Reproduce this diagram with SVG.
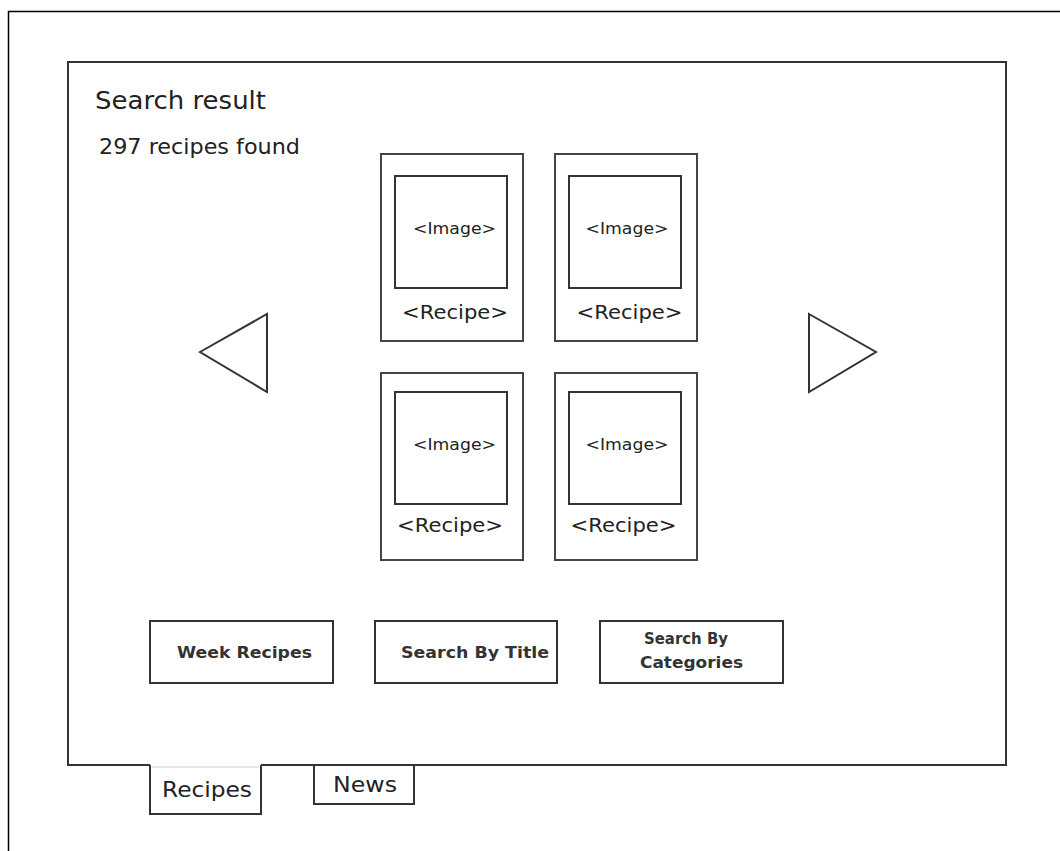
<svg xmlns="http://www.w3.org/2000/svg" width="1060" height="851" viewBox="0 0 1060 851">
<style>
.box{fill:#fff;stroke:#333;stroke-width:2}
.card{fill:#fff;stroke:#444;stroke-width:2}
.t{font-family:"DejaVu Sans","Liberation Sans",sans-serif;fill:#222}
.img{font-size:15px;text-anchor:middle}
.rec{font-size:20px;text-anchor:middle}
.btn{font-size:15px;font-weight:bold;text-anchor:middle;fill:#333}
</style>
<rect width="1060" height="851" fill="#fff"/>
<path d="M8.5 851 V11.5 H1060" fill="none" stroke="#000" stroke-width="1.5"/>
<g id="frame">
<rect class="box" x="68" y="62" width="938" height="703"/>
<text class="t" x="95" y="109" font-size="24" textLength="171" lengthAdjust="spacingAndGlyphs">Search result</text>
<text class="t" x="99" y="154" font-size="21" textLength="201" lengthAdjust="spacingAndGlyphs">297 recipes found</text>
</g>
<g id="prev"><polygon class="box" points="200,352 267,314 267,392"/></g>
<g id="next"><polygon class="box" points="809,314 876,352 809,392"/></g>
<g id="card1">
<rect class="card" x="381" y="154" width="142" height="187"/>
<rect class="box" x="395" y="176" width="112" height="112"/>
<text class="t img" x="454.5" y="234" textLength="83" lengthAdjust="spacingAndGlyphs">&lt;Image&gt;</text>
<text class="t rec" x="455" y="319" textLength="106" lengthAdjust="spacingAndGlyphs">&lt;Recipe&gt;</text>
</g>
<g id="card2">
<rect class="card" x="555" y="154" width="142" height="187"/>
<rect class="box" x="569" y="176" width="112" height="112"/>
<text class="t img" x="627" y="234" textLength="83" lengthAdjust="spacingAndGlyphs">&lt;Image&gt;</text>
<text class="t rec" x="629.5" y="319" textLength="106" lengthAdjust="spacingAndGlyphs">&lt;Recipe&gt;</text>
</g>
<g id="card3">
<rect class="card" x="381" y="373" width="142" height="187"/>
<rect class="box" x="395" y="392" width="112" height="112"/>
<text class="t img" x="454.5" y="450" textLength="83" lengthAdjust="spacingAndGlyphs">&lt;Image&gt;</text>
<text class="t rec" x="450" y="532" textLength="106" lengthAdjust="spacingAndGlyphs">&lt;Recipe&gt;</text>
</g>
<g id="card4">
<rect class="card" x="555" y="373" width="142" height="187"/>
<rect class="box" x="569" y="392" width="112" height="112"/>
<text class="t img" x="627" y="450" textLength="83" lengthAdjust="spacingAndGlyphs">&lt;Image&gt;</text>
<text class="t rec" x="623.5" y="532" textLength="106" lengthAdjust="spacingAndGlyphs">&lt;Recipe&gt;</text>
</g>
<g id="btn-week">
<rect class="box" x="150" y="621" width="183" height="62"/>
<text class="t btn" x="244.5" y="658" textLength="135" lengthAdjust="spacingAndGlyphs">Week Recipes</text>
</g>
<g id="btn-title">
<rect class="box" x="375" y="621" width="182" height="62"/>
<text class="t btn" x="475" y="658" textLength="148" lengthAdjust="spacingAndGlyphs">Search By Title</text>
</g>
<g id="btn-cat">
<rect class="box" x="600" y="621" width="183" height="62"/>
<text class="t btn" x="686" y="644" textLength="84" lengthAdjust="spacingAndGlyphs">Search By</text>
<text class="t btn" x="691.5" y="668" textLength="103" lengthAdjust="spacingAndGlyphs">Categories</text>
</g>
<g id="tab-recipes">
<rect x="150" y="762" width="111" height="52" fill="#fff"/>
<path d="M150 765 V814 H261 V765" fill="none" stroke="#333" stroke-width="2"/>
<line x1="152" y1="767" x2="259" y2="767" stroke="#ddd" stroke-width="1.5"/>
<text class="t" x="207" y="797" font-size="22" text-anchor="middle" textLength="90" lengthAdjust="spacingAndGlyphs">Recipes</text>
</g>
<g id="tab-news">
<rect class="box" x="314" y="765" width="100" height="39"/>
<text class="t" x="365" y="792" font-size="22" text-anchor="middle" textLength="64" lengthAdjust="spacingAndGlyphs">News</text>
</g>
<g id="connectors"></g>
</svg>
